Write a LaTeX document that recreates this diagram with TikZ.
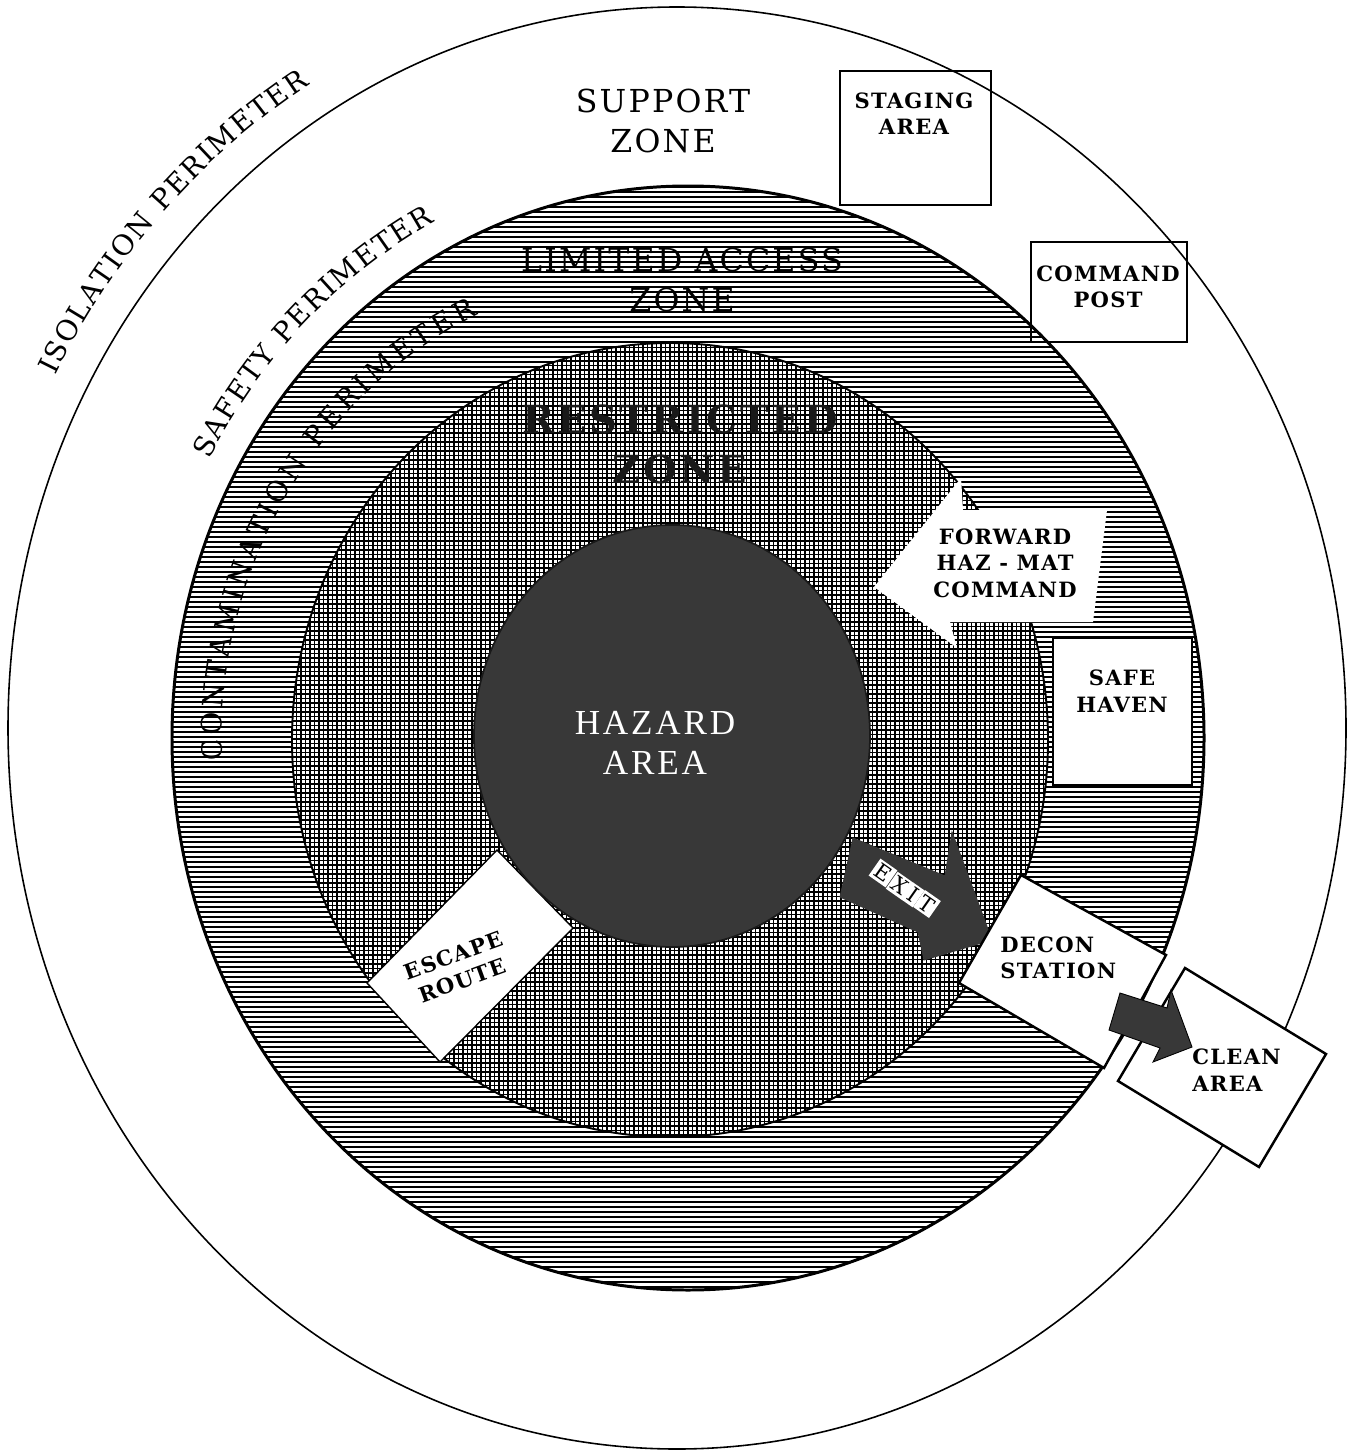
\documentclass[tikz,border=0pt]{standalone}
\usepackage{fontspec}
\setmainfont{DejaVu Serif}
\newfontfamily\zonefam[LetterSpace=7]{DejaVu Serif}
\newfontfamily\perifam{DejaVu Serif}
\newfontfamily\boxfam[LetterSpace=6]{DejaVu Serif}
\newfontfamily\hazfam[LetterSpace=8]{Liberation Serif}
\usetikzlibrary{decorations.text}

\newcommand{\zonefont}{\zonefam\fontsize{18}{22.7}\selectfont}
\newcommand{\restrfont}{\zonefam\bfseries\fontsize{22}{28.4}\selectfont}
\newcommand{\perifont}{\perifam\fontsize{16}{18}\selectfont}
\newcommand{\boxfont}{\boxfam\bfseries\fontsize{12}{15}\selectfont}
\newcommand{\hazfont}{\hazfam\fontsize{20}{22.7}\selectfont}
\definecolor{hazgray}{RGB}{56,56,56}

\begin{document}
\begin{tikzpicture}[x=0.02cm,y=-0.02cm,line join=miter,
  lbl/.style={font=\boxfont,align=center,inner sep=0pt},
  frame/.style={draw,line width=1.4pt},
  whiteframe/.style={draw,fill=white,line width=1.4pt},
  darkarrow/.style={fill=hazgray,draw=hazgray,line width=0.5pt},
  exitletter/.style={fill=white,inner sep=1.5pt,rotate=-35,font=\fontsize{12}{12}\selectfont}]
\useasboundingbox (0,0) rectangle (1354,1452);

\coordinate (o0) at (677,728);
\coordinate (o1) at (688,738);
\coordinate (o2) at (670,740);
\coordinate (o3) at (672,736);

% isolation perimeter
\draw[line width=0.9pt] (o0) ellipse [x radius=669, y radius=721];

% limited access zone
\begin{scope}
\clip (o1) ellipse [x radius=516, y radius=552];
\fill[white] (o1) ellipse [x radius=516, y radius=552];
\foreach \y in {187,192,...,1292}
  \draw[line width=1.3pt] (165,\y) -- (1210,\y);
\end{scope}
\draw[line width=1.7pt] (o1) ellipse [x radius=516, y radius=552];

% restricted zone
\begin{scope}
\clip (o2) ellipse [x radius=378, y radius=397];
\fill[white] (o2) ellipse [x radius=378, y radius=397];
\foreach \x in {292,296.5,...,1050}
  \draw[line width=1.05pt] (\x,340) -- (\x,1140);
\foreach \y in {343,347.5,...,1140}
  \draw[line width=1.05pt] (290,\y) -- (1050,\y);
\end{scope}
\draw[line width=1.1pt] (o2) ellipse [x radius=378, y radius=397];

% perimeter labels
\path[decorate,decoration={text along path,text align=fit to path,
  text={|\perifont|ISOLATION PERIMETER}}]
  ([shift={(207.8:703 and 755)}]o0) arc [start angle=207.8, end angle=238.5, x radius=703, y radius=755];
\path[decorate,decoration={text along path,text align=fit to path,
  text={|\perifont|SAFETY PERIMETER}}]
  ([shift={(208.5:545 and 583)}]o1) arc [start angle=208.5, end angle=242.3, x radius=545, y radius=583];
\path[decorate,decoration={text along path,text align=fit to path,
  text={|\perifont|CONTAMINATION PERIMETER}}]
  ([shift={(177.5:448 and 471)}]o2) arc [start angle=177.5, end angle=244.6, x radius=448, y radius=471];

\node (limited) at (682,280) [font=\zonefont,text=black,align=center] {LIMITED ACCESS\\ZONE};
\node (restricted) at (680,444) [font=\restrfont,text=black!90,align=center] {RESTRICTED\\ZONE};

% escape route
\filldraw[fill=white,line width=0.8pt] (497,850) -- (573,928) -- (440,1062) -- (367,983) -- cycle;

% hazard area
\filldraw[fill=hazgray,draw=black!90,line width=1pt] (o3) ellipse [x radius=198, y radius=211];

% exit arrow
\filldraw[darkarrow] (853,838) -- (945,876) -- (952,832) -- (992,940) -- (924,960)
  -- (918,932) -- (840,897) -- cycle;

% forward haz-mat command
\fill[white] (874,587) -- (961,478) -- (963,510) -- (1107,510) -- (1093,622)
  -- (950,622) -- (957,648) -- cycle;

% safe haven, decon station, clean area
\filldraw[whiteframe] (1053,638) rectangle (1192,785);
\filldraw[whiteframe] (1021,875) -- (1166,955) -- (1104,1068) -- (959,983) -- cycle;
\filldraw[whiteframe] (1185,968) -- (1326,1054) -- (1259,1167) -- (1118,1081) -- cycle;
\filldraw[darkarrow,draw=black] (1120,993) -- (1167,1008) -- (1171,990) -- (1192,1047)
  -- (1153,1062) -- (1160,1048) -- (1109,1030) -- cycle;

% staging area, command post
\draw[frame] (840,71) rectangle (991,205);
\draw[frame] (1031,242) rectangle (1187,342);

\node (support) at (663,121) [font=\zonefont,align=center] {SUPPORT\\ZONE};
\node (hazard) at (655,743) [font=\hazfont,text=white,align=center] {HAZARD\\AREA};
\node (staging) at (914,114) [lbl] {STAGING\\AREA};
\node (cmdpost) at (1108,287) [lbl] {COMMAND\\POST};
\node (safe) at (1122,691) [lbl] {SAFE\\HAVEN};
\node (forward) at (1005,563) [lbl] {FORWARD\\HAZ - MAT\\COMMAND};
\node (decon) at (1000,958) [lbl,anchor=west,align=left] {DECON\\STATION};
\node (clean) at (1192,1070) [lbl,anchor=west,align=left] {CLEAN\\AREA};
\node (escape) at (458,968) [lbl,rotate=20] {ESCAPE\\ROUTE};

\node (ex1) at (883,873) [exitletter] {E};
\node (ex2) at (900,886) [exitletter] {X};
\node (ex3) at (913,895) [exitletter] {I};
\node (ex4) at (927,904) [exitletter] {T};
\end{tikzpicture}
\end{document}
